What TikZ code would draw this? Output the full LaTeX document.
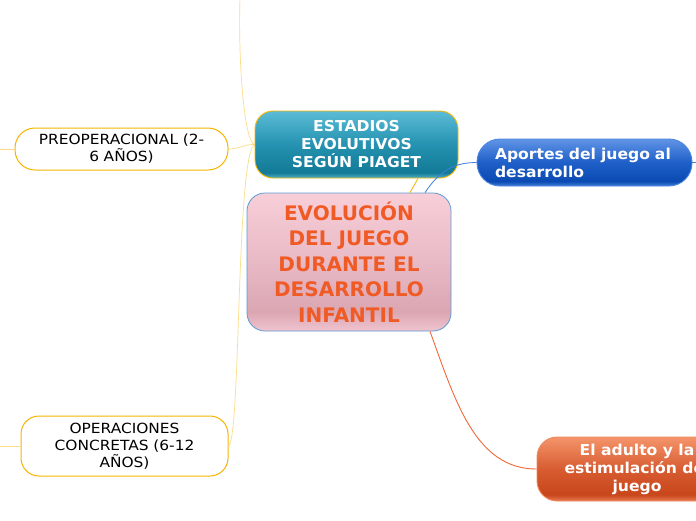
\documentclass[tikz,border=0pt]{standalone}
\usepackage{fontspec}
\setmainfont{DejaVu Sans}
\newfontfamily\leaffont[FakeStretch=1.1]{DejaVu Sans}
\newfontfamily\boxfont[FakeStretch=1.04]{DejaVu Sans}
\definecolor{spine}{HTML}{FBDC8A}
\definecolor{gold}{HTML}{F6B400}
\definecolor{cblue}{HTML}{5B9BD5}
\definecolor{ctext}{HTML}{F05A24}
\definecolor{lblue}{HTML}{3F7FDC}
\definecolor{lred}{HTML}{F06A3A}
\definecolor{abord}{HTML}{4A86E0}
\definecolor{dbord}{HTML}{F08A60}
% glossy vertical shadings (0bp = bottom; 25bp..75bp fitted to the node)
\pgfdeclareverticalshading{tealgloss}{100bp}{color(0bp)=(rgb,255:red,80;green,176;blue,202); color(25bp)=(rgb,255:red,80;green,176;blue,202); color(29bp)=(rgb,255:red,19;green,122;blue,150); color(50bp)=(rgb,255:red,36;green,146;blue,176); color(75bp)=(rgb,255:red,92;green,188;blue,214); color(100bp)=(rgb,255:red,92;green,188;blue,214)}
\pgfdeclareverticalshading{pinkgloss}{100bp}{color(0bp)=(rgb,255:red,240;green,196;blue,207); color(25bp)=(rgb,255:red,240;green,196;blue,207); color(32bp)=(rgb,255:red,218;green,166;blue,178); color(50bp)=(rgb,255:red,232;green,186;blue,198); color(75bp)=(rgb,255:red,248;green,206;blue,216); color(100bp)=(rgb,255:red,248;green,206;blue,216)}
\pgfdeclareverticalshading{bluegloss}{100bp}{color(0bp)=(rgb,255:red,70;green,126;blue,218); color(25bp)=(rgb,255:red,70;green,126;blue,218); color(30bp)=(rgb,255:red,10;green,74;blue,178); color(50bp)=(rgb,255:red,30;green,95;blue,200); color(75bp)=(rgb,255:red,96;green,148;blue,230); color(100bp)=(rgb,255:red,96;green,148;blue,230)}
\pgfdeclareverticalshading{orangegloss}{100bp}{color(0bp)=(rgb,255:red,232;green,122;blue,84); color(25bp)=(rgb,255:red,232;green,122;blue,84); color(30bp)=(rgb,255:red,200;green,70;blue,26); color(50bp)=(rgb,255:red,216;green,92;blue,50); color(75bp)=(rgb,255:red,244;green,148;blue,106); color(100bp)=(rgb,255:red,244;green,148;blue,106)}
\tikzset{
  base/.style={rectangle, inner sep=0pt, align=center},
  central/.style={base, shade, shading=pinkgloss, draw=cblue, line width=0.8pt, rounded corners=18pt,
    minimum width=204pt, minimum height=138pt, text=ctext,
    font=\bfseries\fontsize{20}{25.5}\selectfont},
  mainbox/.style={base, shade, draw, line width=0.9pt, text=white,
    font=\boxfont\bfseries\fontsize{15}{18}\selectfont},
  leafbox/.style={base, fill=white, draw=gold, line width=1pt, rounded corners=20pt, text=black,
    font=\leaffont\fontsize{14}{17}\selectfont},
  spineline/.style={draw=spine, line width=0.7pt},
}
\begin{document}
\begin{tikzpicture}[x=1pt, y=-1pt]
\useasboundingbox (0,0) rectangle (696,520);
\clip (0,0) rectangle (696,520);
\fill[white] (0,0) rectangle (696,520);

% free ends
\coordinate (top) at (240,-3);
\coordinate (pl) at (0,149);
\coordinate (ol) at (0,446);
\coordinate (ar) at (700,162.5);

% nodes
\node[leafbox, minimum width=213pt, minimum height=42pt, text width=190pt] (p) at (121.5,149) {PREOPERACIONAL (2-\\6 AÑOS)};
\node[leafbox, rounded corners=18pt, minimum width=207pt, minimum height=60pt, text width=190pt] (o) at (124.5,446) {OPERACIONES\\CONCRETAS (6-12\\AÑOS)};

% yellow spine (behind nodes)
\coordinate (ew) at (255,144.5);
\path[spineline] (ew) .. controls (244,144) and (238,60) .. (top);
\path[spineline] (ew) .. controls (244,144) and (240,149) .. (p.east);
\path[spineline] (ew) .. controls (236,150) and (241,440) .. (o.east);
\path[spineline] (pl) -- (p.west);
\path[spineline] (ol) -- (o.west);

\node[central] (c) at (349,262) {EVOLUCIÓN\\DEL JUEGO\\DURANTE EL\\DESARROLLO\\INFANTIL};
\node[mainbox, shading=tealgloss, draw=gold, rounded corners=18pt, minimum width=203pt, minimum height=67pt] (e) at (356.5,144.5) {ESTADIOS\\EVOLUTIVOS\\SEGÚN PIAGET};
\node[mainbox, shading=bluegloss, draw=abord, rounded corners=23pt, minimum width=215pt, minimum height=47pt, text width=179pt, align=left] (a) at (584.5,162.5) {Aportes del juego al\\desarrollo};
\node[mainbox, shading=orangegloss, draw=dbord, rounded corners=20pt, minimum width=200pt, minimum height=64pt] (d) at (637,469) {El adulto y la\\estimulación del\\juego};

% connectors
\draw[gold, line width=0.8pt] ([xshift=61pt]c.north) -- ([xshift=61.5pt]e.south);
\draw[lblue, line width=0.8pt] ([xshift=76pt]c.north) .. controls (440,170) and (455,162.5) .. (a.west);
\draw[lblue, line width=0.8pt] (a.east) -- (ar);
\draw[lred, line width=0.9pt] ([xshift=81pt]c.south) .. controls (455,400) and (475,469) .. (d.west);
\end{tikzpicture}
\end{document}
